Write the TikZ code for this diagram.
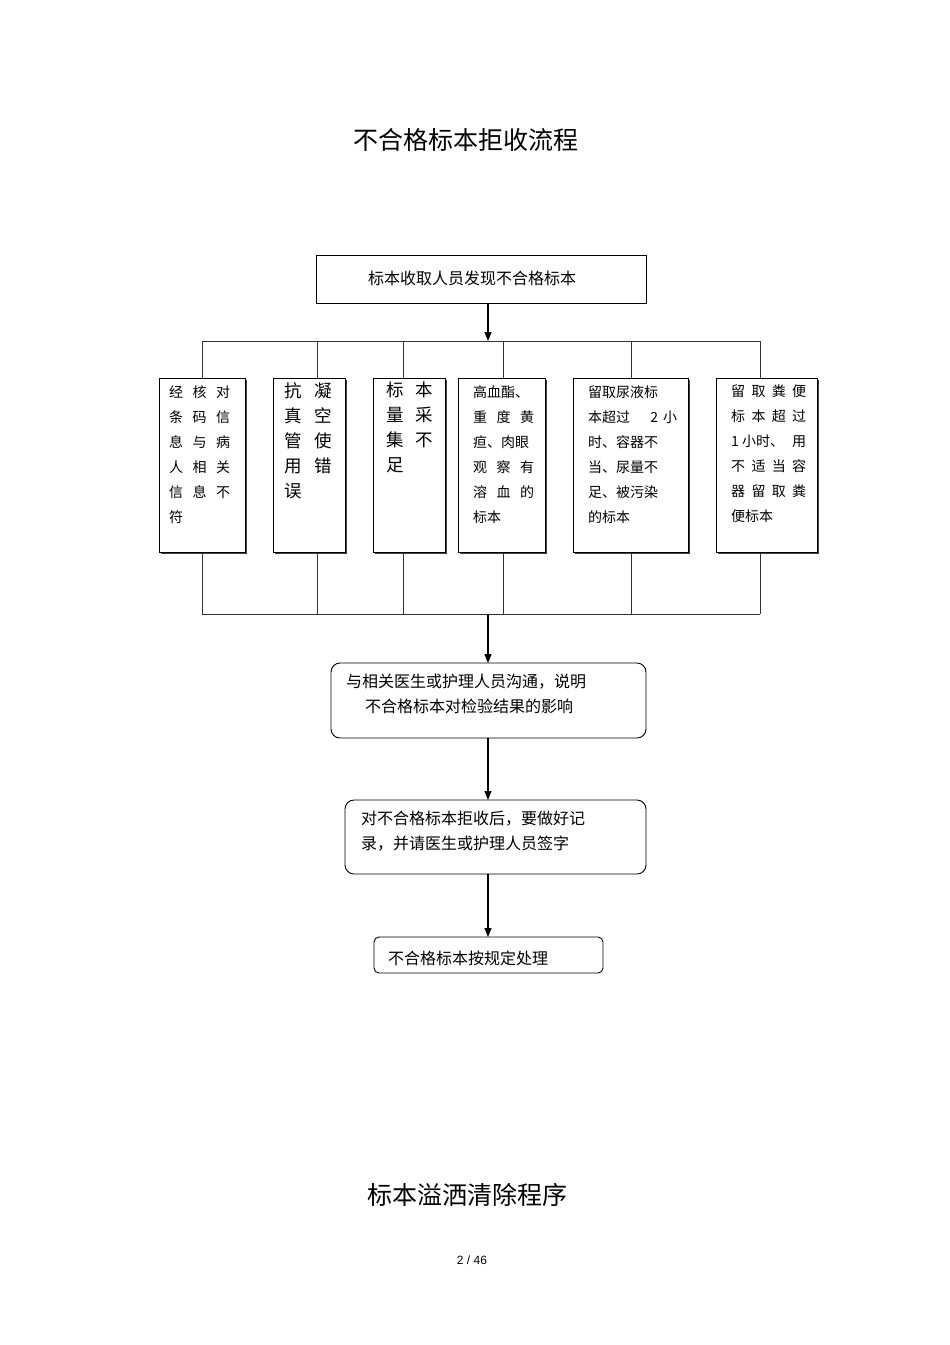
\documentclass[tikz,border=0pt]{standalone}
\usepackage{fontspec}
\setmainfont{Liberation Sans}
\newfontfamily\cjk{Noto Sans CJK SC}
\usetikzlibrary{arrows.meta}
\newcommand{\jrow}[2]{\hbox to #1{#2}}
\begin{document}
\begin{tikzpicture}[x=1pt,y=-1pt,
  box/.style={draw,line width=0.9pt,minimum width=0pt,inner sep=0pt},
  sbox/.style={draw,line width=0.9pt},
  rbox/.style={draw,line width=0.9pt,rounded corners=9pt},
  arr/.style={line width=1.2pt,-{Triangle[length=9pt,width=7pt]}},
  ln/.style={line width=0.9pt,draw=black!80},
  txt/.style={inner sep=0pt,align=left,anchor=north west,font=\cjk\fontsize{14}{25}\selectfont},
  btxt/.style={inner sep=0pt,align=left,anchor=north west,font=\cjk\fontsize{17.5}{25}\selectfont},
  mtxt/.style={inner sep=0pt,align=left,anchor=north west,font=\cjk\fontsize{16}{25}\selectfont}]
\useasboundingbox (0,0) rectangle (950,1345);
\node[font=\cjk\fontsize{25}{30}\selectfont] (title) at (466,140) {不合格标本拒收流程};
\node[font=\cjk\fontsize{25}{30}\selectfont] (title2) at (467,1195) {标本溢洒清除程序};
\node[font=\fontsize{12}{14}\selectfont] (page) at (472,1260) {2 / 46};

% top box
\draw[sbox] (316,255) rectangle (646,303);
\node[font=\cjk\fontsize{16}{20}\selectfont] (top) at (472,278) {标本收取人员发现不合格标本};
\coordinate (t1) at (488,303);
\coordinate (t2) at (488,341);
\draw[arr] (t1) -- (t2);

% buses
\draw[ln] (202,341) -- (760,341);
\draw[ln] (202,614) -- (760,614);
\foreach \x in {202,317,403,503,631,760}{
  \draw[ln] (\x,341) -- (\x,378);
  \draw[ln] (\x,552) -- (\x,614);
}
% boxes with shadow
\foreach \a/\b in {159/245,273/345,373/445,458/545,573/688,716/817}{
  \fill[black!75] (\a+2,380) rectangle (\b+2,554);
  \draw[box,fill=white] (\a,378) rectangle (\b,552);
}
\node[txt] (b1) at (169,385) {\jrow{61pt}{经\hfil 核\hfil 对}\\\jrow{61pt}{条\hfil 码\hfil 信}\\\jrow{61pt}{息\hfil 与\hfil 病}\\\jrow{61pt}{人\hfil 相\hfil 关}\\\jrow{61pt}{信\hfil 息\hfil 不}\\符};
\node[btxt] (b2) at (284,382) {\jrow{48pt}{抗\hfil 凝}\\\jrow{48pt}{真\hfil 空}\\\jrow{48pt}{管\hfil 使}\\\jrow{48pt}{用\hfil 错}\\误};
\node[btxt] (b3) at (386,382) {\jrow{47pt}{标\hfil 本}\\\jrow{47pt}{量\hfil 采}\\\jrow{47pt}{集\hfil 不}\\足};
\node[txt] (b4) at (473,385) {高血酯、\\\jrow{61pt}{重\hfil 度\hfil 黄}\\疸、肉眼\\\jrow{61pt}{观\hfil 察\hfil 有}\\\jrow{61pt}{溶\hfil 血\hfil 的}\\标本};
\node[txt] (b5) at (588,385) {留取尿液标\\\jrow{89pt}{本超过\hfil 2\hspace{5pt}小}\\时、容器不\\当、尿量不\\足、被污染\\的标本};
\node[txt] (b6) at (731,385) {\jrow{75pt}{留\hfil 取\hfil 粪\hfil 便}\\\jrow{75pt}{标\hfil 本\hfil 超\hfil 过}\\\jrow{75pt}{1 小时、\hfil 用}\\\jrow{75pt}{不\hfil 适\hfil 当\hfil 容}\\\jrow{75pt}{器\hfil 留\hfil 取\hfil 粪}\\便标本};

\coordinate (m1) at (488,614);
\coordinate (m2) at (488,663);
\draw[arr] (m1) -- (m2);

\draw[rbox] (331,663) rectangle (646,738);
\node[mtxt] (c1) at (346,674) {与相关医生或护理人员沟通，说明\\\hspace{19pt}不合格标本对检验结果的影响};
\coordinate (n1) at (488,738);
\coordinate (n2) at (488,800);
\draw[arr] (n1) -- (n2);

\draw[rbox] (345,800) rectangle (646,874);
\node[mtxt] (c2) at (361,811) {对不合格标本拒收后，要做好记\\录，并请医生或护理人员签字};
\coordinate (p1) at (488,874);
\coordinate (p2) at (488,937);
\draw[arr] (p1) -- (p2);

\draw[rbox,rounded corners=5pt] (374,937) rectangle (603,973);
\node[mtxt,anchor=west] (c3) at (388,958) {不合格标本按规定处理};
\end{tikzpicture}
\end{document}
